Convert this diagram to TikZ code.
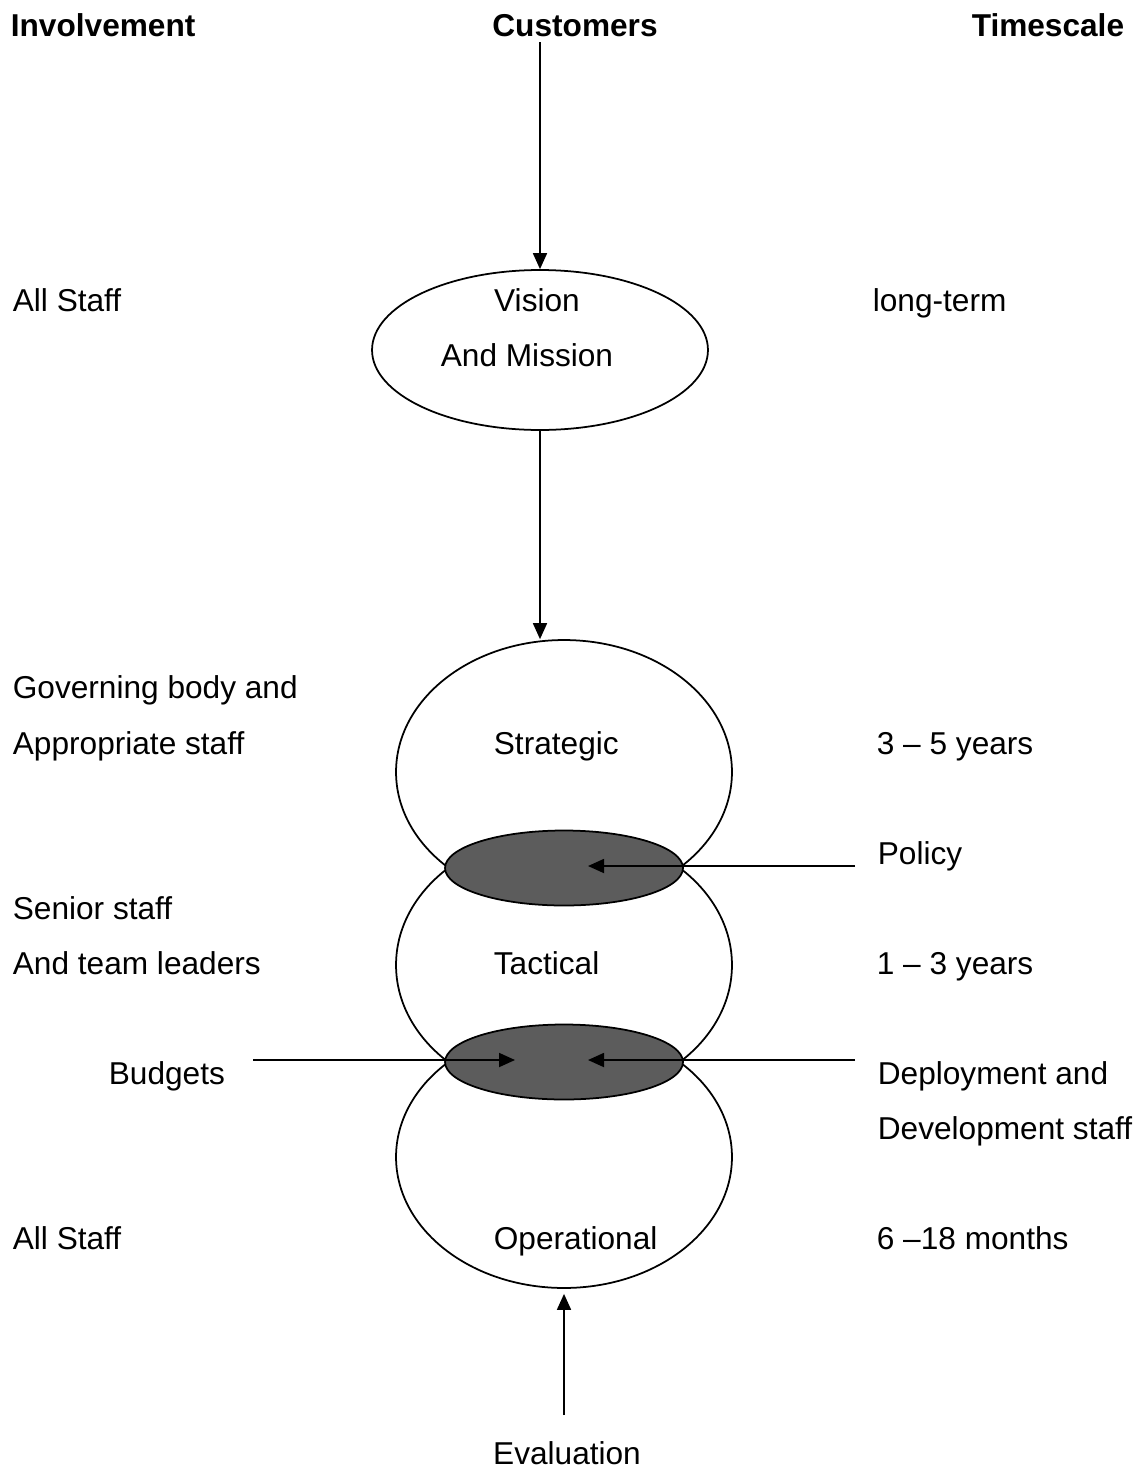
\documentclass[tikz,border=0pt]{standalone}
\usepackage{fontspec}
\setmainfont{Liberation Sans}
\usepackage{tikz}
\usetikzlibrary{arrows.meta,shapes.geometric}

\begin{document}
\begin{tikzpicture}[x=0.02cm,y=-0.02cm,line width=1pt,
  font=\fontsize{18}{22}\selectfont,
  lbl/.style={anchor=base west,inner sep=0pt},
  mid/.style={anchor=base,inner sep=0pt},
  blob/.style={draw,ellipse,inner sep=0pt,minimum width=6.72cm},
  overlap/.style={draw,ellipse,inner sep=0pt,fill=black!64,minimum width=4.76cm,minimum height=1.5cm},
  arr/.style={-{Triangle[length=0.32cm,width=0.28cm]}}]
\useasboundingbox (0,0) rectangle (1145,1474);
% headings
\node[lbl,font=\fontsize{18}{22}\selectfont\bfseries] (inv) at (10, 36) {Involvement};
\node[mid,font=\fontsize{18}{22}\selectfont\bfseries] (cust) at (575, 36) {Customers};
\node[anchor=base east,inner sep=0pt,font=\fontsize{18}{22}\selectfont\bfseries] (time) at (1125, 36) {Timescale};

% ellipses
\node[blob,minimum height=3.2cm] (vision) at (540, 350) {};
\node[blob,minimum height=5.28cm] (strategic) at (564, 772) {};
\node[blob,minimum height=5.36cm] (tactical) at (564, 965) {};
\node[blob,minimum height=5.24cm] (operational) at (564, 1157) {};
\node[overlap] (shadeA) at (564, 868) {};
\node[overlap] (shadeB) at (564, 1062) {};

% texts in the ellipses
\node[mid] (v1) at (537, 311) {Vision};
\node[mid] (v2) at (527, 366) {And Mission};
\node[lbl] (s) at (493, 754) {Strategic};
\node[lbl] (t) at (493, 974) {Tactical};
\node[lbl] (o) at (493, 1249) {Operational};
\node[mid] (eval) at (567, 1464) {Evaluation};

% left column
\node[lbl] (a1) at (12, 311) {All Staff};
\node[lbl] (g1) at (12, 698) {Governing body and};
\node[lbl] (g2) at (12, 754) {Appropriate staff};
\node[lbl] (st1) at (12, 919) {Senior staff};
\node[lbl] (st2) at (12, 974) {And team leaders};
\node[lbl] (bud) at (108, 1084) {Budgets};
\node[lbl] (a2) at (12, 1249) {All Staff};

% right column
\node[lbl] (lt) at (872, 311) {long-term};
\node[lbl] (y35) at (876, 754) {3 -- 5 years};
\node[lbl] (pol) at (877, 864) {Policy};
\node[lbl] (y13) at (876, 974) {1 -- 3 years};
\node[lbl] (dep1) at (877, 1084) {Deployment and};
\node[lbl] (dep2) at (877, 1139) {Development staff};
\node[lbl] (m618) at (876, 1249) {6 --18 months};

% arrow ends
\coordinate (polfrom) at (855, 866);
\coordinate (polto) at (588, 866);
\coordinate (budfrom) at (253, 1060);
\coordinate (budto) at (515, 1060);
\coordinate (depfrom) at (855, 1060);
\coordinate (depto) at (588, 1060);

\draw[arr,shorten <=0.1cm] (vision.north |- cust.south) -- (vision.north);
\draw[arr] (vision.south) -- (vision.south |- strategic.north);
\draw[arr] (polfrom) -- (polto);
\draw[arr] (budfrom) -- (budto);
\draw[arr] (depfrom) -- (depto);
\draw[arr,shorten <=0.5cm,shorten >=0.1cm] (operational.south |- eval.north) -- (operational.south);
\end{tikzpicture}
\end{document}
